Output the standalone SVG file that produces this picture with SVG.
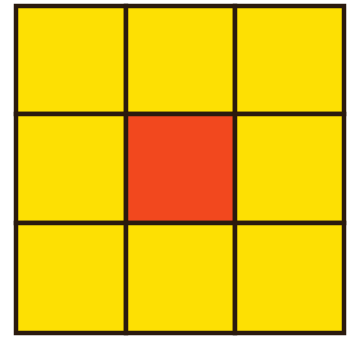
<svg xmlns="http://www.w3.org/2000/svg" width="354" height="338" viewBox="0 0 354 338">
<style>
.c{fill:#FDE003;stroke:#2a1a0e;stroke-width:4.5;stroke-linejoin:miter}
.r{fill:#F2481E}
</style>
<rect width="354" height="338" fill="#ffffff"/>
<g id="cell-1-1"><rect class="c" x="16" y="6" width="110" height="108"/></g>
<g id="cell-1-2"><rect class="c" x="126" y="6" width="109" height="108"/></g>
<g id="cell-1-3"><rect class="c" x="235" y="6" width="109" height="108"/></g>
<g id="cell-2-1"><rect class="c" x="16" y="114" width="110" height="109"/></g>
<g id="cell-2-2"><rect class="c r" x="126" y="114" width="109" height="109"/></g>
<g id="cell-2-3"><rect class="c" x="235" y="114" width="109" height="109"/></g>
<g id="cell-3-1"><rect class="c" x="16" y="223" width="110" height="110"/></g>
<g id="cell-3-2"><rect class="c" x="126" y="223" width="109" height="110"/></g>
<g id="cell-3-3"><rect class="c" x="235" y="223" width="109" height="110"/></g>
</svg>
